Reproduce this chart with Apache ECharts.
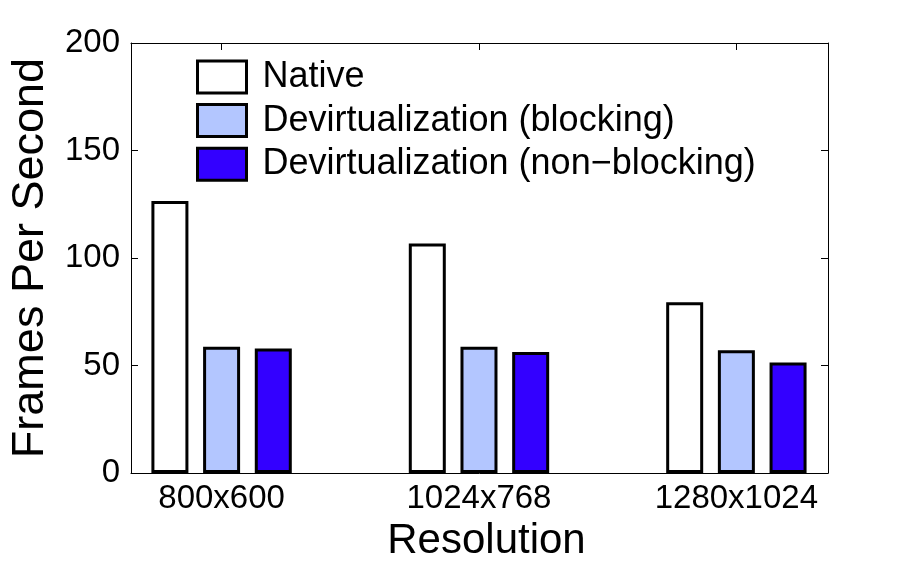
<!DOCTYPE html>
<html>
<head>
  <meta charset="utf-8">
  <title>Frames Per Second</title>
  <script src="https://cdn.jsdelivr.net/npm/echarts@6.0.0/dist/echarts.min.js"></script>
  <style>
    body { margin: 0; background: #fff; }
    #chart { width: 913px; height: 567px; }
  </style>
</head>
<body>
  <div id="chart"></div>
  <script>
    // data
    const resolutions = ['800x600', '1024x768', '1280x1024'];
    const native = [126.5, 106.8, 79.5];
    const blocking = [58.7, 58.7, 57.1];
    const nonBlocking = [57.9, 56.3, 51.4];

    const font = 'Liberation Sans, Arial, sans-serif';
    const positions = resolutions.map((r, i) => i + 1);
    const toPairs = arr => arr.map((v, i) => [positions[i], v]);

    const chart = echarts.init(document.getElementById('chart'));

    const barStyle = color => ({
      color: color, borderColor: '#000', borderWidth: 3
    });

    const option = {
      animation: false,
      backgroundColor: '#fff',
      grid: { left: 128, right: 85, top: 43, bottom: 93.5 },
      legend: {
        left: 196, top: 59, orient: 'vertical', padding: 0,
        itemWidth: 49, itemHeight: 32, itemGap: 7.6,
        icon: 'rect',
        itemStyle: { borderColor: '#000', borderWidth: 3 },
        textStyle: { fontFamily: font, fontSize: 36, color: '#000', lineHeight: 36, padding: [0, 0, 0, 11] },
        data: ['Native', 'Devirtualization (blocking)', 'Devirtualization (non\u2212blocking)']
      },
      xAxis: [{
        type: 'value', min: 0.648, max: 3.356, position: 'bottom',
        name: 'Resolution', nameLocation: 'middle', nameGap: 38,
        nameTextStyle: { fontFamily: font, fontSize: 42, color: '#000', padding: [0, 0, 0, 14] },
        axisLine: { show: true, onZero: false, lineStyle: { color: '#000', width: 1 } },
        axisTick: { show: true, inside: true, length: 7, customValues: positions, lineStyle: { color: '#000' } },
        axisLabel: {
          customValues: positions, margin: 9,
          fontFamily: font, fontSize: 33, color: '#000',
          formatter: v => resolutions[Math.round(v) - 1]
        },
        splitLine: { show: false }
      }, {
        type: 'value', min: 0.648, max: 3.356, position: 'top',
        axisLine: { show: true, onZero: false, lineStyle: { color: '#000', width: 1 } },
        axisTick: { show: true, inside: true, length: 7, customValues: positions, lineStyle: { color: '#000' } },
        axisLabel: { show: false },
        splitLine: { show: false }
      }],
      yAxis: [{
        type: 'value', min: 0, max: 200, interval: 50, position: 'left',
        name: 'Frames Per Second', nameLocation: 'middle', nameGap: 78,
        nameTextStyle: { fontFamily: font, fontSize: 45, color: '#000' },
        axisLine: { show: true, onZero: false, lineStyle: { color: '#000', width: 1 } },
        axisTick: { show: true, inside: true, length: 7, lineStyle: { color: '#000' } },
        axisLabel: { margin: 11, fontFamily: font, fontSize: 33, color: '#000' },
        splitLine: { show: false }
      }, {
        type: 'value', min: 0, max: 200, interval: 50, position: 'right',
        axisLine: { show: true, onZero: false, lineStyle: { color: '#000', width: 1 } },
        axisTick: { show: true, inside: true, length: 7, lineStyle: { color: '#000' } },
        axisLabel: { show: false },
        splitLine: { show: false }
      }],
      series: [{
        name: 'Native', type: 'bar', barWidth: 37, barGap: '39.7%',
        itemStyle: barStyle('#ffffff'), data: toPairs(native)
      }, {
        name: 'Devirtualization (blocking)', type: 'bar', barWidth: 37, barGap: '39.7%',
        itemStyle: barStyle('#b3c6ff'), data: toPairs(blocking)
      }, {
        name: 'Devirtualization (non\u2212blocking)', type: 'bar', barWidth: 37, barGap: '39.7%',
        itemStyle: barStyle('#3300ff'), data: toPairs(nonBlocking)
      }]
    };
    chart.setOption(option);
  </script>
</body>
</html>
